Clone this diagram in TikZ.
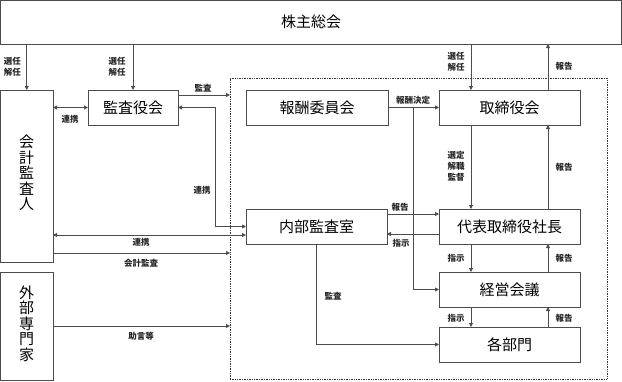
\documentclass[tikz,border=0pt]{standalone}
\usepackage{fontspec}
\setmainfont{Noto Sans CJK JP}
\usetikzlibrary{arrows.meta,calc}
\begin{document}
\begin{tikzpicture}[x=1pt,y=-1pt,
  box/.style={draw=black!70,line width=0.8pt,inner sep=0pt,outer sep=0pt,font=\fontsize{15}{15.5}\selectfont,align=center},
  vtext/.style={font=\fontsize{15}{15.5}\selectfont,align=center,inner sep=0pt},
  bound/.style={draw=black!80,line width=0.8pt,dash pattern=on 1pt off 0.7pt,inner sep=0pt,outer sep=0pt},
  lbl/.style={font=\fontsize{8.5}{11}\selectfont\bfseries,text=black!85,inner sep=0pt,align=center},
  arr/.style={draw=black!70,line width=0.8pt,-{Triangle[length=4pt,width=4pt]}},
  darr/.style={draw=black!70,line width=0.8pt,{Triangle[length=4pt,width=4pt]}-{Triangle[length=4pt,width=4pt]}},
]
\useasboundingbox (0,0) rectangle (622,381);

% boundary
\node[bound,minimum width=377pt,minimum height=301pt] (bnd) at (418.5,228.5) {};

% boxes
\node[box,minimum width=621pt,minimum height=44pt] (sh) at (311,22) {株主総会};
\node[box,minimum width=52.5pt,minimum height=172pt,
      label={[vtext,yshift=3pt]center:会\\計\\監\\査\\人}] (kai) at (26.75,176) {};
\node[box,minimum width=52.5pt,minimum height=108pt,
      label={[vtext,yshift=2.5pt]center:外\\部\\専\\門\\家}] (gai) at (26.75,326) {};
\node[box,minimum width=90pt,minimum height=35pt] (kan) at (133,107.5) {監査役会};
\node[box,minimum width=142pt,minimum height=35pt] (hou) at (317,107.5) {報酬委員会};
\node[box,minimum width=141pt,minimum height=35pt] (tor) at (509.5,107.5) {取締役会};
\node[box,minimum width=141pt,minimum height=35pt] (nai) at (316.5,226.5) {内部監査室};
\node[box,minimum width=141pt,minimum height=35pt] (dai) at (509.5,226.5) {代表取締役社長};
\node[box,minimum width=141pt,minimum height=35pt] (kei) at (509.5,289.5) {経営会議};
\node[box,minimum width=141pt,minimum height=35pt] (kak) at (509.5,344.5) {各部門};

% helper coordinates
\coordinate (xL) at (471,0);
\coordinate (xR) at (548,0);
\coordinate (xM) at (215,0);
\coordinate (xN) at (413,0);
\coordinate (xP) at (316,0);
\coordinate (yA) at (0,95);
\coordinate (yC) at (0,235);
\coordinate (yD) at (0,253);
\coordinate (yF) at (0,214);
\coordinate (yG) at (0,234);

% connectors
\draw[arr] (sh.south -| kai) -- (kai.north);
\draw[arr] (sh.south -| kan) -- (kan.north);
\draw[arr] (sh.south -| xL) -- (tor.north -| xL);
\draw[arr] (tor.north -| xR) -- (sh.south -| xR);
\draw[arr] (kan.east |- yA) -- (bnd.west |- yA);
\draw[darr] (kai.east |- kan) -- (kan.west);
\draw[darr] (kan.east) -- (kan.east -| xM) -- (xM |- nai) -- (nai.west);
\draw[darr] (kai.east |- yC) -- (nai.west |- yC);
\draw[arr] (kai.east |- yD) -- (bnd.west |- yD);
\draw[arr] (gai.east) -- (bnd.west |- gai);
\draw[arr] (hou.east) -- (tor.west);
\draw[arr] (hou.east -| xN) -- (xN |- kei) -- (kei.west);
\draw[arr] (tor.south -| xL) -- (dai.north -| xL);
\draw[arr] (dai.north -| xR) -- (tor.south -| xR);
\draw[arr] (nai.east |- yF) -- (dai.west |- yF);
\draw[arr] (dai.west |- yG) -- (nai.east |- yG);
\draw[arr] (dai.south -| xL) -- (kei.north -| xL);
\draw[arr] (kei.north -| xR) -- (dai.south -| xR);
\draw[arr] (kei.south -| xL) -- (kak.north -| xL);
\draw[arr] (kak.north -| xR) -- (kei.south -| xR);
\draw[arr] (nai.south -| xP) -- (xP |- kak) -- (kak.west);

% labels
\node[lbl] (l1) at (12.5,67) {選任\\解任};
\node[lbl] (l2) at (117,67) {選任\\解任};
\node[lbl] (l3) at (456,62) {選任\\解任};
\node[lbl] (l4) at (564,66) {報告};
\node[lbl] (l5) at (203,88) {監査};
\node[lbl] (l6) at (70,119) {連携};
\node[lbl] (l7) at (202,190) {連携};
\node[lbl] (l8) at (141,242) {連携};
\node[lbl] (l9) at (141,263) {会計監査};
\node[lbl] (l10) at (141,336) {助言等};
\node[lbl] (l11) at (413,100) {報酬決定};
\node[lbl] (l12) at (456,166) {選定\\解職\\監督};
\node[lbl] (l13) at (564,167) {報告};
\node[lbl] (l14) at (400,207) {報告};
\node[lbl] (l15) at (401,243) {指示};
\node[lbl] (l16) at (456,258) {指示};
\node[lbl] (l17) at (564,258) {報告};
\node[lbl] (l18) at (456,318) {指示};
\node[lbl] (l19) at (564,318) {報告};
\node[lbl] (l20) at (333,296) {監査};
\end{tikzpicture}
\end{document}
